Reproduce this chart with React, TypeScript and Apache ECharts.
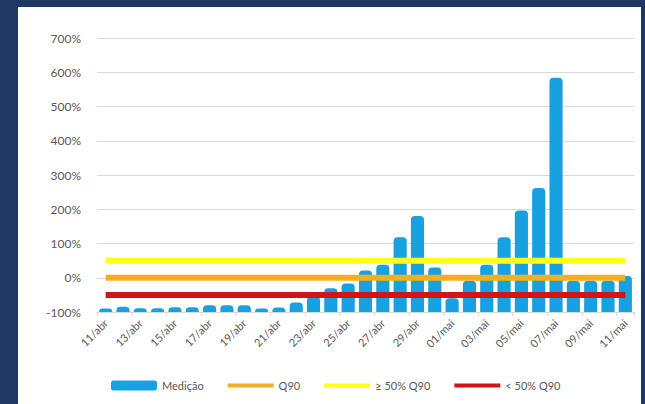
import React, { useEffect, useRef } from "react";
import * as echarts from "echarts";

const categories = [
  "11/abr", "12/abr", "13/abr", "14/abr", "15/abr", "16/abr", "17/abr", "18/abr", "19/abr", "20/abr",
  "21/abr", "22/abr", "23/abr", "24/abr", "25/abr", "26/abr", "27/abr", "28/abr", "29/abr", "30/abr",
  "01/mai", "02/mai", "03/mai", "04/mai", "05/mai", "06/mai", "07/mai", "08/mai", "09/mai", "10/mai", "11/mai",
];

// Medição (% relative to Q90)
const medicao = [
  -90, -85, -89, -89, -86, -86, -80, -80, -80, -90,
  -87, -72, -55, -31, -17, 21, 38, 118, 180, 30,
  -60, -9, 38, 118, 196, 262, 584, -9, -9, -9, 5,
];

const Q90 = 0;
const ACIMA_50 = 50;
const ABAIXO_50 = -50;

const Y_MIN = -100;
const Y_MAX = 700;
const Y_STEP = 100;

const FONT = "Lato, 'Liberation Sans', sans-serif";

export default function App() {
  const ref = useRef<HTMLDivElement>(null);

  useEffect(() => {
    if (!ref.current) return;
    const chart = echarts.init(ref.current, undefined, { renderer: "svg" });
    const shift = (v: number) => v - Y_MIN;
    const constLine = (v: number) => categories.map(() => shift(v));
    const lineLegend = (name: string, color: string) => ({
      name,
      itemStyle: { opacity: 0 },
      lineStyle: { color, width: 4 },
    });

    chart.setOption({
      animation: false,
      backgroundColor: "#ffffff",
      textStyle: { fontFamily: FONT },
      grid: { left: 79, right: 7, top: 31, bottom: 92, containLabel: false },
      legend: {
        left: 88,
        top: 368,
        itemWidth: 46,
        itemHeight: 10,
        itemGap: 22,
        textStyle: { color: "#595959", fontSize: 11, fontFamily: FONT },
        data: [
          { name: "Medição", icon: "roundRect", textStyle: { width: 56 } },
          lineLegend("Q90", "#F3B01C"),
          lineLegend("≥ 50% Q90", "#FFFF1A"),
          lineLegend("< 50% Q90", "#D11414"),
        ],
      },
      xAxis: {
        type: "category",
        data: categories,
        boundaryGap: true,
        axisLine: { show: true, lineStyle: { color: "#D9D9D9" } },
        axisTick: { show: true, interval: 1, length: 4, lineStyle: { color: "#D9D9D9" } },
        axisLabel: {
          interval: 1,
          rotate: 45,
          margin: 9,
          color: "#595959",
          fontSize: 11,
          fontFamily: FONT,
        },
      },
      yAxis: {
        type: "value",
        min: 0,
        max: Y_MAX - Y_MIN,
        interval: Y_STEP,
        axisLine: { show: false },
        axisTick: { show: false },
        splitLine: { lineStyle: { color: "#D9D9D9", width: 1 } },
        axisLabel: {
          margin: 16,
          color: "#595959",
          fontSize: 12,
          fontFamily: FONT,
          formatter: (v: number) => `${v + Y_MIN}%`,
        },
      },
      series: [
        {
          name: "Medição",
          type: "bar",
          data: medicao.map(shift),
          barCategoryGap: "24%",
          itemStyle: { color: "#18A1E0", borderRadius: [4, 4, 0, 0] },
          z: 2,
        },
        {
          name: "Q90",
          type: "line",
          data: constLine(Q90),
          symbol: "none",
          lineStyle: { color: "#F3B01C", width: 6 },
          itemStyle: { color: "#F3B01C" },
          z: 3,
        },
        {
          name: "≥ 50% Q90",
          type: "line",
          data: constLine(ACIMA_50),
          symbol: "none",
          lineStyle: { color: "#FFFF1A", width: 6 },
          itemStyle: { color: "#FFFF1A" },
          z: 3,
        },
        {
          name: "< 50% Q90",
          type: "line",
          data: constLine(ABAIXO_50),
          symbol: "none",
          lineStyle: { color: "#D11414", width: 6 },
          itemStyle: { color: "#D11414" },
          z: 3,
        },
      ],
    });
    return () => chart.dispose();
  }, []);

  return (
    <div
      style={{
        position: "absolute",
        left: 0,
        top: 0,
        width: 645,
        height: 404,
        background: "#1F3864",
        overflow: "hidden",
      }}
    >
      <div
        ref={ref}
        style={{ position: "absolute", left: 18, top: 7, width: 623, height: 397, background: "#ffffff" }}
      />
    </div>
  );
}
